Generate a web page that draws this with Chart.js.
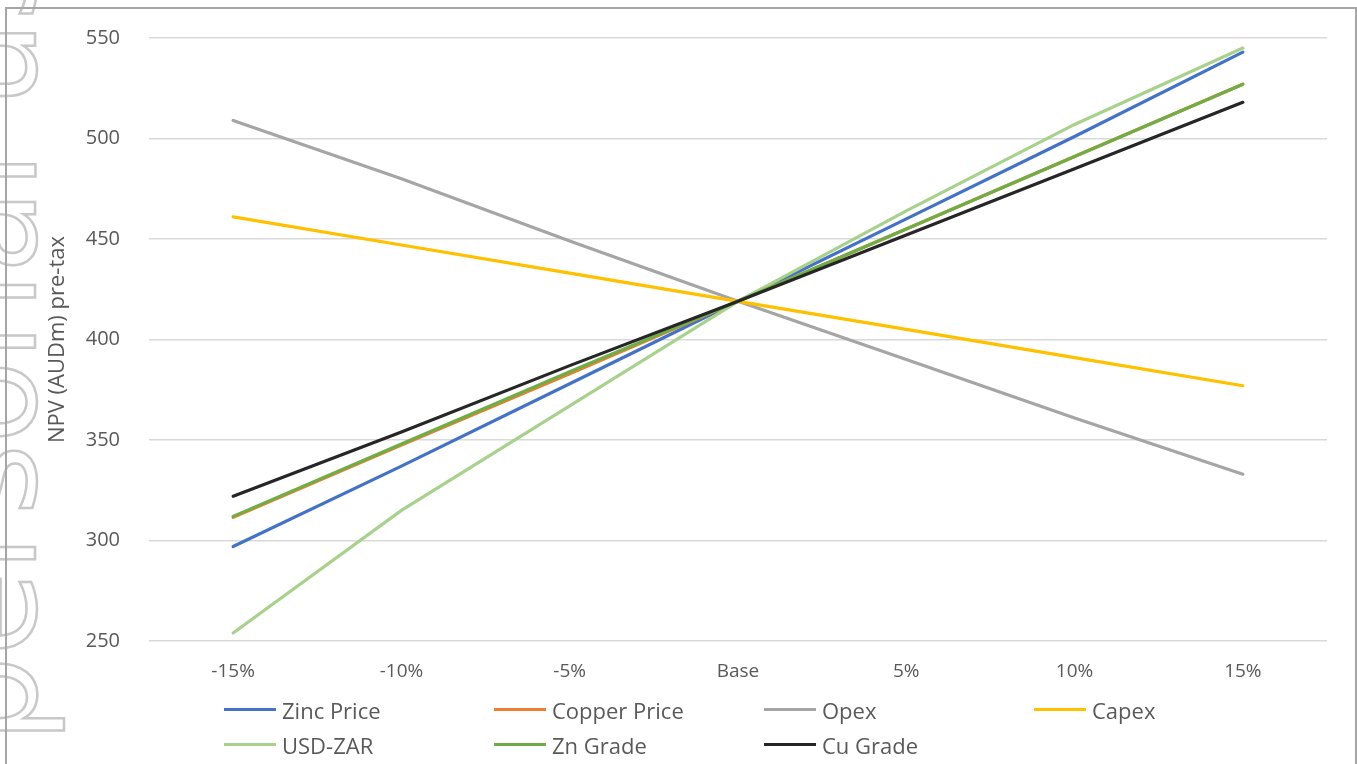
<!DOCTYPE html>
<html>
<head>
<meta charset="utf-8">
<script src="https://cdn.jsdelivr.net/npm/chart.js@4.4.0/dist/chart.umd.min.js"></script>
<style>
  html, body { margin: 0; padding: 0; background: #fff; overflow: hidden; }
  #wrap { position: relative; width: 1357px; height: 764px; }
  #frame { position: absolute; left: 5px; top: 7px; width: 1348px; height: 800px; border: 2px solid #a6a6a6; pointer-events: none; }
  #legend { position: absolute; left: 224px; top: 692px; display: grid; grid-template-columns: repeat(4, 270px); }
  .item { display: flex; align-items: center; height: 35px; font: 22px "Open Sans", sans-serif; color: #595959; white-space: nowrap; }
  .swatch { width: 52px; height: 3px; margin-right: 6px; }
</style>
</head>
<body>
<div id="wrap">
  <canvas id="chart" width="1357" height="764"></canvas>
  <div id="frame"></div>
  <div id="legend"></div>
</div>
<script>
// data
const categories = ["-15%", "-10%", "-5%", "Base", "5%", "10%", "15%"];
const zincPrice = [297, 337, 378, 419, 460, 501, 543];
const copperPrice = [311.5, 347.5, 383, 419, 455, 491, 527];
const opex = [509, 480, 449, 419, 390, 361, 333];
const capex = [461, 447, 433, 419, 405, 391, 377];
const usdZar = [254, 315, 367, 419, 464, 507, 545];
const znGrade = [312, 348, 384, 419, 455, 491, 527];
const cuGrade = [322, 354, 387, 419, 452, 485, 518];
const yTicks = { min: 250, max: 550, step: 50 };

const series = [
  { label: "Zinc Price", data: zincPrice, color: "#4472C4" },
  { label: "Copper Price", data: copperPrice, color: "#ED7D31" },
  { label: "Opex", data: opex, color: "#A5A5A5" },
  { label: "Capex", data: capex, color: "#FFC000" },
  { label: "USD-ZAR", data: usdZar, color: "#A9D18E" },
  { label: "Zn Grade", data: znGrade, color: "#70AD47" },
  { label: "Cu Grade", data: cuGrade, color: "#262626" },
];

// faint rotated watermark on the left edge
const watermark = {
  id: "watermark",
  beforeDraw(chart) {
    const ctx = chart.ctx;
    ctx.save();
    ctx.translate(35, 743);
    ctx.rotate(-Math.PI / 2);
    ctx.font = '137px "DejaVu Sans"';
    ctx.strokeStyle = "#c8c8c8";
    ctx.lineWidth = 2.5;
    ctx.strokeText("personal use", 0, 0);
    ctx.restore();
  },
};

const chart = new Chart(document.getElementById("chart"), {
  type: "line",
  data: {
    labels: categories,
    datasets: series.map((s, i) => ({
      label: s.label,
      data: s.data,
      borderColor: s.color,
      backgroundColor: s.color,
      borderWidth: 3.2,
      borderCapStyle: "round",
      pointRadius: 0,
      tension: 0,
      order: -i,
    })),
  },
  options: {
    responsive: false,
    animation: false,
    layout: { padding: { left: 0, right: 30, top: 38, bottom: 83 } },
    plugins: { legend: { display: false }, tooltip: { enabled: false } },
    scales: {
      x: {
        offset: true,
        grid: { display: false, drawTicks: false },
        border: { display: false },
        ticks: { color: "#595959", font: { family: "Open Sans", size: 19 }, padding: 19, maxRotation: 0 },
        afterFit(scale) { scale.height = 40; },
      },
      y: {
        min: yTicks.min,
        max: yTicks.max,
        grid: { color: "#d9d9d9", lineWidth: 1.5, drawTicks: false },
        border: { display: false },
        ticks: { stepSize: yTicks.step, color: "#595959", font: { family: "Open Sans", size: 20 }, padding: 29 },
        title: {
          display: true,
          text: "NPV (AUDm) pre-tax",
          color: "#595959",
          font: { family: "Open Sans", size: 22 },
          padding: { top: 45, bottom: 0 },
        },
        afterFit(scale) {
          scale.width = 149;
          // tick padding should not push the plot area down
          scale.paddingTop = 0;
          scale.paddingBottom = 0;
        },
      },
    },
  },
  plugins: [watermark],
});

// legend laid out in four columns like the original
const legend = document.getElementById("legend");
chart.data.datasets.forEach((ds) => {
  const item = document.createElement("div");
  item.className = "item";
  item.innerHTML = `<span class="swatch" style="background:${ds.borderColor}"></span><span>${ds.label}</span>`;
  legend.appendChild(item);
});
</script>
</body>
</html>
